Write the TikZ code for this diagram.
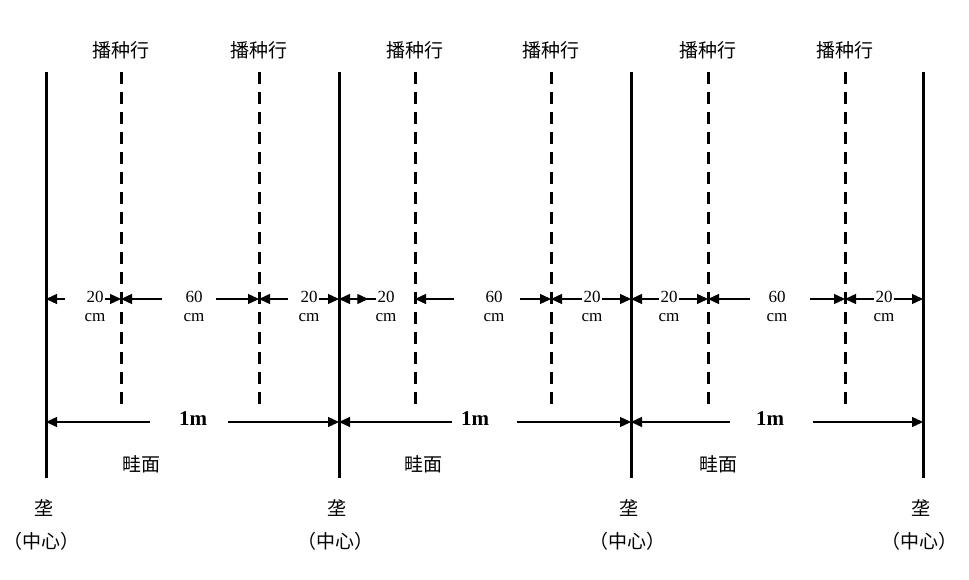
\documentclass[tikz,border=0pt]{standalone}
\usepackage{fontspec}
\setmainfont{Liberation Serif}
\newfontfamily\cjk{Noto Sans CJK SC}
\usetikzlibrary{arrows.meta}
\begin{document}
\begin{tikzpicture}[x=1pt,y=-1pt,
  solidline/.style={line width=3pt},
  dashline/.style={line width=3pt,dash pattern=on 12pt off 8pt},
  dimarrow/.style={line width=1.3pt,-{Triangle[length=11pt,width=10pt]}},
  lbl/.style={font=\fontsize{17}{17}\selectfont,inner sep=1pt},
  cjklbl/.style={font=\cjk\fontsize{19}{19}\selectfont,inner sep=1pt}]
\useasboundingbox (0,0) rectangle (969,580);
% solid lines
\foreach \n/\x in {A/46,B/339,C/631,D/923}{
  \draw[solidline] (\x,72) coordinate (\n t) -- (\x,478) coordinate (\n b);
  \coordinate (\n m) at (\x,299);
  \coordinate (\n k) at (\x,422);
}
% dashed lines
\foreach \n/\x in {a/121,b/259,c/415,d/551,e/708,f/845}{
  \draw[dashline] (\x,72) coordinate (\n t) -- (\x,405) coordinate (\n b);
  \coordinate (\n m) at (\x,299);
  \node[cjklbl] (\n lab) at (\x,50) {播种行};
}
% dimension labels
\foreach \i/\l/\r/\v/\x in {1/A/a/20/95,2/a/b/60/194,3/b/B/20/309,4/B/c/20/386,5/c/d/60/494,6/d/C/20/592,7/C/e/20/669,8/e/f/60/777,9/f/D/20/884}{
  \node[lbl] (n\i) at (\x,297) {\v};
  \node[lbl] (c\i) at (\x,318) {cm};
}
\draw[dimarrow] (n1.west|-Am) ++(-20,0) coordinate (s1) -- (Am);
\draw[dimarrow] (n1.east|-am) -- (am);
\draw[dimarrow] (162,299) coordinate (s2) -- (am);
\draw[dimarrow] (216,299) coordinate (s3) -- (bm);
\draw[dimarrow] (288,299) coordinate (s4) -- (bm);
\draw[dimarrow] (n3.east|-Bm) -- (Bm);
\draw[dimarrow] (n4.west|-Bm) -- (Bm);
\draw[dimarrow] (n4.west|-Bm) ++(-24,0) -- ++(16,0);
\draw[dimarrow] (454,299) coordinate (s5) -- (cm);
\draw[dimarrow] (520,299) coordinate (s6) -- (dm);
\draw[dimarrow] (n6.west|-dm) -- (dm);
\draw[dimarrow] (n6.east|-Cm) -- (Cm);
\draw[dimarrow] (n7.west|-Cm) -- (Cm);
\draw[dimarrow] (n7.east|-em) -- (em);
\draw[dimarrow] (750,299) coordinate (s7) -- (em);
\draw[dimarrow] (810,299) coordinate (s8) -- (fm);
\draw[dimarrow] (n9.west|-fm) -- (fm);
\draw[dimarrow] (n9.east|-Dm) -- (Dm);
% 1m arrows
\foreach \i/\l/\r/\x in {1/A/B/193,2/B/C/475,3/C/D/770}{
  \node[font=\bfseries\fontsize{21}{21}\selectfont] (m\i) at (\x,419) {1m};
  \node[cjklbl] (q\i) at (\x-52,464) {畦面};
}
\draw[dimarrow] (150,422) -- (Ak);
\draw[dimarrow] (228,422) -- (Bk);
\draw[dimarrow] (452,422) -- (Bk);
\draw[dimarrow] (517,422) -- (Ck);
\draw[dimarrow] (730,422) -- (Ck);
\draw[dimarrow] (813,422) -- (Dk);
% ridge labels
\foreach \n/\x in {A/46,B/339,C/631,D/923}{
  \node[cjklbl] (r\n) at (\x-2,508) {垄};
  \node[cjklbl] (z\n) at (\x-4,541) {（中心）};
}
\end{tikzpicture}
\end{document}
